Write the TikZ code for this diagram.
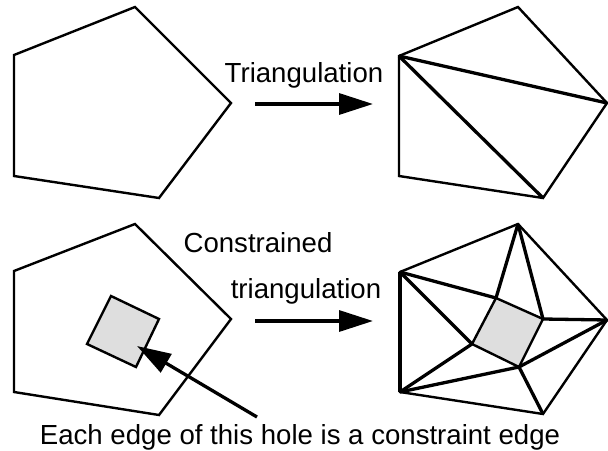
\documentclass[tikz,border=0pt]{standalone}
\usepackage{fontspec}
\setmainfont{Liberation Sans}
\usepackage{tikz}
\usetikzlibrary{arrows.meta, positioning, calc}

\begin{document}
\begin{tikzpicture}[
    x=1pt, y=-1pt,
    >={Triangle[length=34pt, width=21pt]},
    outline/.style={draw=black, line width=2.4pt},
    hole/.style={draw=black, line width=2.4pt, fill=black!13},
    edge/.style={draw=black, line width=3.3pt},
    arrow/.style={draw=black, line width=3.3pt, ->},
    label/.style={anchor=base, inner sep=0pt, font=\fontsize{27.6}{32}\selectfont}
]
    \useasboundingbox (0,0) rectangle (608,450);

    % Vertices of the four polygons
    \coordinate (a1) at (135,7);   \coordinate (a2) at (231,103); \coordinate (a3) at (159,198);
    \coordinate (a4) at (14,176);  \coordinate (a5) at (14,55);
    \coordinate (b1) at (518,7);   \coordinate (b2) at (607,103); \coordinate (b3) at (543,198);
    \coordinate (b4) at (399,176); \coordinate (b5) at (399,56);
    \coordinate (c1) at (135,224); \coordinate (c2) at (231,319); \coordinate (c3) at (159,415);
    \coordinate (c4) at (14,392);  \coordinate (c5) at (14,271);
    \coordinate (d1) at (518,224); \coordinate (d2) at (607,320); \coordinate (d3) at (543,414);
    \coordinate (d4) at (400,392); \coordinate (d5) at (400,272);
    % Holes
    \coordinate (s1) at (111,296); \coordinate (s2) at (159,319);
    \coordinate (s3) at (136,367); \coordinate (s4) at (87,344);
    \coordinate (t1) at (496,298); \coordinate (t2) at (543,319);
    \coordinate (t3) at (519,367); \coordinate (t4) at (472,344);

    % Top row: polygon and its triangulation
    \draw[outline] (a1) -- (a2) -- (a3) -- (a4) -- (a5) -- cycle;
    \draw[outline] (b1) -- (b2) -- (b3) -- (b4) -- (b5) -- cycle;
    \draw[edge] (b5) -- (b2);
    \draw[edge] (b5) -- (b3);

    % Bottom row: polygon with hole and constrained triangulation
    \draw[outline] (c1) -- (c2) -- (c3) -- (c4) -- (c5) -- cycle;
    \draw[hole] (s1) -- (s2) -- (s3) -- (s4) -- cycle;
    \draw[outline] (d1) -- (d2) -- (d3) -- (d4) -- (d5) -- cycle;
    \draw[hole] (t1) -- (t2) -- (t3) -- (t4) -- cycle;
    \draw[edge] (d5) -- (t1);
    \draw[edge] (d5) -- (t4);
    \draw[edge] (d5) -- (d4);
    \draw[edge] (d1) -- (t1);
    \draw[edge] (d1) -- (t2);
    \draw[edge] (t2) -- (d2);
    \draw[edge] (d2) -- (t3);
    \draw[edge] (d4) -- (t4);
    \draw[edge] (d4) -- (t3);
    \draw[edge] (t3) -- (d3);

    % Labels
    \node[label] (TRI)  at (304,82)  {Triangulation};
    \node[label] (CON)  at (258,252) {Constrained};
    \node[label] (CTRI) at (306,298) {triangulation};
    \node[label] (NOTE) at (300,444) {Each edge of this hole is a constraint edge};

    % Arrows
    \coordinate (top start) at (255,104);   \coordinate (top end) at (373,104);
    \coordinate (bot start) at (255,321);   \coordinate (bot end) at (373,321);
    \coordinate (note start) at (257,417);  \coordinate (note end) at (137,346);
    \draw[arrow] (top start) -- (top end);
    \draw[arrow] (bot start) -- (bot end);
    \draw[arrow] (note start) -- (note end);
\end{tikzpicture}
\end{document}
